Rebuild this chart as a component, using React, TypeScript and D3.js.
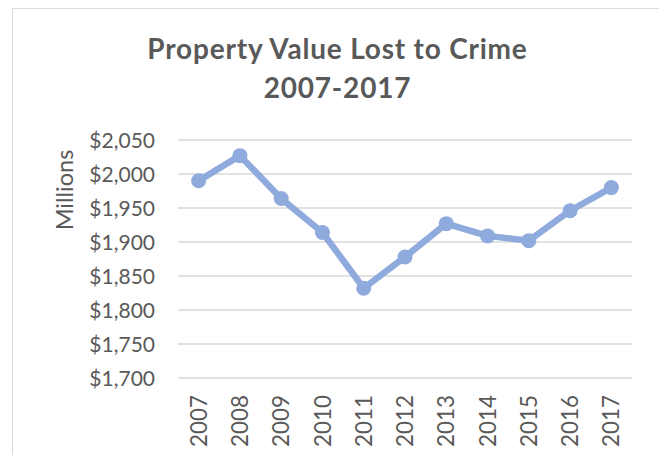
import React from "react";
import * as d3 from "d3";

const years = ["2007", "2008", "2009", "2010", "2011", "2012", "2013", "2014", "2015", "2016", "2017"];
const values = [1990, 2027, 1964, 1914, 1832, 1878, 1927, 1909, 1902, 1946, 1980];
const yTicks = [1700, 1750, 1800, 1850, 1900, 1950, 2000, 2050];
const titleLines = ["Property Value Lost to Crime", "2007-2017"];
const yAxisTitle = "Millions";

const W = 659;
const H = 447;
const FONT = "Lato, 'Open Sans', sans-serif";
const TEXT = "#595959";
const GRID = "#d9d9d9";
const LINE = "#8faadc";

export default function App() {
  const x = d3.scaleBand<string>().domain(years).range([170, 624]);
  const y = d3.scaleLinear().domain([1700, 2050]).range([370, 132]);
  const fmt = (v: number) => "$" + d3.format(",")(v);
  const cx = (i: number) => (x(years[i]) as number) + x.bandwidth() / 2;
  const line = d3
    .line<number>()
    .x((_, i) => cx(i))
    .y((d) => y(d));

  return (
    <svg width={W} height={H} style={{ display: "block" }} fontFamily={FONT}>
      <rect x={4.5} y={0.5} width={649} height={H + 10} fill="#fff" stroke={GRID} strokeWidth={1} />
      {titleLines.map((t, i) => (
        <text
          key={t}
          x={329.5}
          y={51 + i * 39}
          textAnchor="middle"
          fontSize={28}
          letterSpacing={0.8}
          fontWeight={700}
          fill={TEXT}
        >
          {t}
        </text>
      ))}
      {yTicks.map((t) => (
        <g key={t}>
          <line x1={170} x2={624} y1={y(t)} y2={y(t)} stroke={GRID} strokeWidth={1.5} />
          <text x={147} y={y(t)} dy="0.36em" textAnchor="end" fontSize={21} fill={TEXT}>
            {fmt(t)}
          </text>
        </g>
      ))}
      <text transform={`translate(65,182) rotate(-90)`} textAnchor="middle" fontSize={23.5} fill={TEXT}>
        {yAxisTitle}
      </text>
      {years.map((yr, i) => (
        <text
          key={yr}
          transform={`translate(${cx(i)},387) rotate(-90)`}
          dy="0.36em"
          textAnchor="end"
          fontSize={22.4}
          fill={TEXT}
        >
          {yr}
        </text>
      ))}
      <path d={line(values) || ""} fill="none" stroke={LINE} strokeWidth={6.5} strokeLinejoin="round" />
      {values.map((v, i) => (
        <circle key={i} cx={cx(i)} cy={y(v)} r={7.5} fill={LINE} />
      ))}
    </svg>
  );
}
